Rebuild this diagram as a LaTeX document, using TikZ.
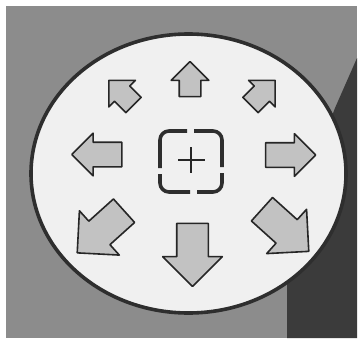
\documentclass[tikz,border=0pt]{standalone}
\usetikzlibrary{shapes.arrows}

\begin{document}
\begin{tikzpicture}[
    x=1pt, y=-1pt,
    line join=round,
    panel/.style={fill=black!45},
    shade/.style={fill=black!77},
    dial/.style={draw=black!82, fill=black!6, line width=3.6pt},
    pointer/.style={single arrow, draw=black!85, fill=black!24, line width=1.6pt, single arrow tip angle=90, inner xsep=0pt, outer sep=0pt},
    tinyarrow/.style={pointer, minimum height=35pt, inner ysep=10pt, single arrow head extend=8pt},
    midarrow/.style={pointer, minimum height=50pt, inner ysep=11.5pt, single arrow head extend=9pt},
    bigarrow/.style={pointer, minimum height=63pt, inner ysep=15pt, single arrow head extend=14pt},
    bracket/.style={draw=black!82, line width=3.6pt, rounded corners=9pt},
    cross/.style={draw=black!85, line width=1.1pt}
]
\useasboundingbox (0,0) rectangle (361,340);
\fill[white] (0,0) rectangle (361,340);
\path[panel] (6,6) rectangle (357,338);
\path[shade] (357,58) -- (335,108) -- (300,200) -- (287,280) -- (287,338) -- (357,338) -- cycle;

\draw[dial] (188.5,173.5) ellipse [x radius=157.5, y radius=139.5];

\node[tinyarrow, rotate=90] (up) at (190,84.5) {};
\node[tinyarrow, rotate=135] (upleft) at (125,96.5) {};
\node[tinyarrow, rotate=45] (upright) at (259,96.5) {};
\node[midarrow, rotate=180] (left) at (103,154.5) {};
\node[midarrow] (right) at (284.5,155) {};
\node[bigarrow, rotate=270] (down) at (192.5,247) {};
\node[bigarrow, rotate=222] (downleft) at (106.5,226.5) {};
\node[bigarrow, rotate=318] (downright) at (279.5,225) {};

% centre target
\coordinate (target) at (191,161.5);
\draw[bracket] (160,168) |- (187,131);
\draw[bracket] (194,131) -| (222,167);
\draw[bracket] (222,173) |- (197,192);
\draw[bracket] (190,192) -| (160,174);
\draw[cross] (178,160) -- (205,160);
\draw[cross] (191,147) -- (191,173);
\end{tikzpicture}
\end{document}
